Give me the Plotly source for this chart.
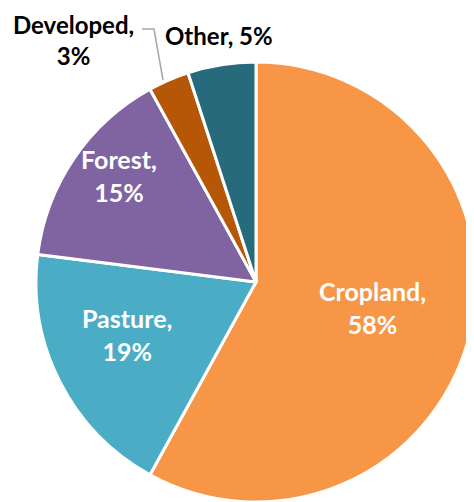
import plotly.graph_objects as go

categories = ["Cropland", "Pasture", "Forest", "Developed", "Other"]
shares = [58, 19, 15, 3, 5]
colors = ["#F79646", "#4BACC6", "#8064A2", "#B65708", "#276A7C"]

W, H = 474, 502
FONT = "Lato"
OFF = 8  # page body margin offset


def px(x):
    return (x - OFF) / W


def py(y):
    return 1 - (y - OFF) / H


CX, CY, R = 256, 282, 220

fig = go.Figure(go.Pie(
    labels=categories,
    values=shares,
    sort=False,
    direction="clockwise",
    rotation=0,
    marker=dict(colors=colors, line=dict(color="white", width=3)),
    textinfo="none",
    hoverinfo="label+percent",
    showlegend=False,
    domain=dict(x=[px(CX - R), min(1.0, px(CX + R))], y=[py(CY + R), py(CY - R)]),
))

# label placements (pixel centers) : inside white
label_pos = {
    "Cropland": (372, 307),
    "Pasture": (127, 334),
    "Forest": (119, 176),
}
annotations = []
for cat, val in zip(categories, shares):
    if cat in label_pos:
        x, y = label_pos[cat]
        annotations.append(dict(
            x=px(x), y=py(y), xref="paper", yref="paper",
            text=f"<b>{cat},<br>{val}%</b>", showarrow=False,
            font=dict(family=FONT, size=25, color="white"),
            xanchor="center", yanchor="middle", align="center",
        ))

dev = categories.index("Developed")
annotations.append(dict(
    x=px(73), y=1.0, xref="paper", yref="paper",
    text=f"<b>{categories[dev]},<br>{shares[dev]}%</b>", showarrow=False,
    font=dict(family=FONT, size=24, color="black"),
    xanchor="center", yanchor="top", align="center",
))
oth = categories.index("Other")
annotations.append(dict(
    x=px(219), y=py(36), xref="paper", yref="paper",
    text=f"<b>{categories[oth]}, {shares[oth]}%</b>", showarrow=False,
    font=dict(family=FONT, size=24, color="black"),
    xanchor="center", yanchor="middle",
))

fig.update_layout(
    width=W, height=H,
    margin=dict(l=0, r=0, t=0, b=0),
    paper_bgcolor="white",
    annotations=annotations,
    shapes=[dict(
        type="path", xref="paper", yref="paper",
        path=f"M {px(142)} {py(29)} L {px(154)} {py(29)} L {px(163)} {py(80)}",
        line=dict(color="#A6A6A6", width=1.5),
    )],
)

fig.write_html("out.html")
